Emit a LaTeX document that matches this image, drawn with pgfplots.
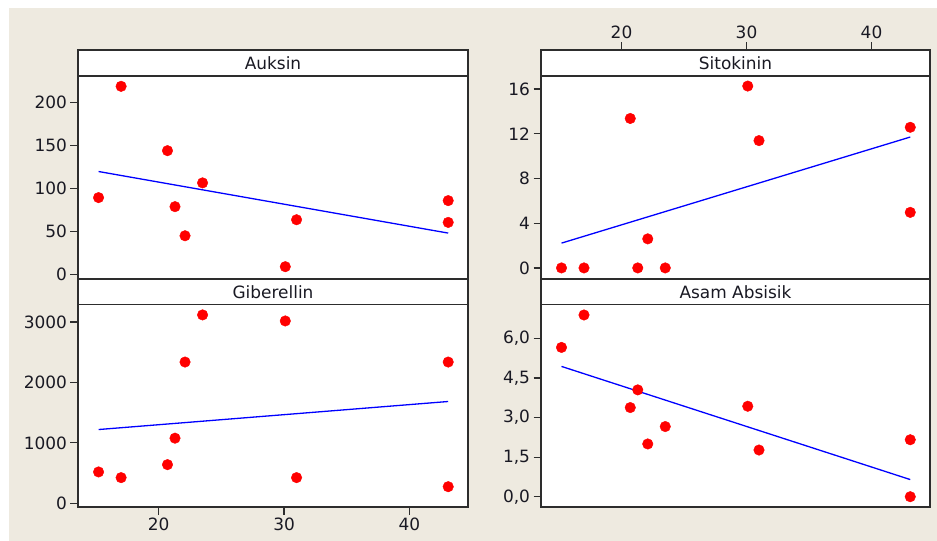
\documentclass[border=0pt]{standalone}
\usepackage{pgfplots}
\pgfplotsset{compat=1.18}
\usepackage{fontspec}
\setmainfont{DejaVu Sans}
\definecolor{bg}{RGB}{238,234,224}
\definecolor{frm}{RGB}{45,45,45}
\definecolor{txt}{RGB}{25,25,35}

\pgfplotstableread{
x y
15.2 89.5
17.0 218.7
20.7 144
21.3 79
22.1 45.2
23.5 106.6
30.1 9.3
31.0 63.8
43.1 86
43.1 60.7
}\auksin
\pgfplotstableread{
x y
15.2 0
17.0 0
20.7 13.37
21.3 0
22.1 2.6
23.5 0
30.1 16.27
31.0 11.39
43.1 12.58
43.1 4.97
}\sitokinin
\pgfplotstableread{
x y
15.2 519
17.0 425
20.7 640
21.3 1078
22.1 2338
23.5 3118
30.1 3018
31.0 425
43.1 2338
43.1 275
}\giberellin
\pgfplotstableread{
x y
15.2 5.66
17.0 6.89
20.7 3.38
21.3 4.05
22.1 2.0
23.5 2.66
30.1 3.43
31.0 1.77
43.1 2.16
43.1 0.0
}\absisik

\begin{document}
\begin{tikzpicture}
\fill[white] (0,0) rectangle (937bp,541bp);
\fill[bg] (9bp,0) rectangle (937bp,533bp);
\useasboundingbox (0,0) rectangle (937bp,541bp);

\pgfplotsset{
  panel/.style={
    scale only axis, anchor=south west,
    xmin=13.56, xmax=44.68,
    axis background/.style={fill=white},
    axis line style={frm, line width=1.5bp},
    tick align=outside,
    major tick length=7.5bp,
    major tick style={frm, line width=1.2bp},
    ytick pos=left,
    tick label style={font=\fontsize{17}{20}\selectfont, text=txt},
    /pgf/number format/assume math mode=true,
    /pgf/number format/1000 sep={},
    scaled ticks=false,
  },
  pts/.style={only marks, mark=*, mark size=5.3pt, mark options={fill=red, draw=red}, color=red},
  fit/.style={no marks, color={rgb,255:red,0;green,0;blue,255}, line width=1.3bp},
}

% ---------- Auksin (top left)
\begin{axis}[panel, at={(78bp,262bp)}, width=390bp, height=203bp,
  ymin=-5, ymax=230.7, ytick={0,50,100,150,200}, xtick=\empty]
  \addplot[pts] table {\auksin};
  \addplot[fit] coordinates {(15.2,119.8) (43.1,48.3)};
\end{axis}
\draw[frm, line width=1.5bp, fill=white] (78bp,465bp) rectangle (468bp,491bp);
\node[text=txt, font=\fontsize{17}{20}\selectfont] at (273bp,478bp) {Auksin};

% ---------- Sitokinin (top right)
\begin{axis}[panel, at={(541bp,262bp)}, width=389bp, height=203bp,
  ymin=-0.99, ymax=17.17, ytick={0,4,8,12,16}, xtick=\empty]
  \addplot[pts] table {\sitokinin};
  \addplot[fit] coordinates {(15.2,2.22) (43.1,11.71)};
\end{axis}
% strip carrying the top x axis
\begin{axis}[panel, at={(541bp,465bp)}, width=389bp, height=26bp,
  ymin=0, ymax=1, ytick=\empty,
  xtick={20,30,40}, xtick pos=top, xticklabel pos=top]
  \addplot[draw=none] coordinates {(20,0.5)};
\end{axis}
\node[text=txt, font=\fontsize{17}{20}\selectfont] at (735.5bp,478bp) {Sitokinin};

% ---------- Giberellin (bottom left)
\begin{axis}[panel, at={(78bp,34bp)}, width=390bp, height=202.3bp,
  ymin=-61, ymax=3287, ytick={0,1000,2000,3000},
  xtick={20,30,40}, xtick pos=bottom]
  \addplot[pts] table {\giberellin};
  \addplot[fit] coordinates {(15.2,1221) (43.1,1685)};
\end{axis}
\draw[frm, line width=1.5bp, fill=white] (78bp,236.3bp) rectangle (468bp,262bp);
\node[text=txt, font=\fontsize{17}{20}\selectfont] at (273bp,249.2bp) {Giberellin};

% ---------- Asam Absisik (bottom right)
\begin{axis}[panel, at={(541bp,34bp)}, width=389bp, height=202.3bp,
  ymin=-0.39, ymax=7.28, ytick={0,1.5,3,4.5,6}, xtick=\empty,
  yticklabel style={/pgf/number format/.cd, fixed, fixed zerofill, precision=1, use comma}]
  \addplot[pts] table {\absisik};
  \addplot[fit] coordinates {(15.2,4.94) (43.1,0.65)};
\end{axis}
\draw[frm, line width=1.5bp, fill=white] (541bp,236.3bp) rectangle (930bp,262bp);
\node[text=txt, font=\fontsize{17}{20}\selectfont] at (735.5bp,249.2bp) {Asam Absisik};
\end{tikzpicture}
\end{document}
